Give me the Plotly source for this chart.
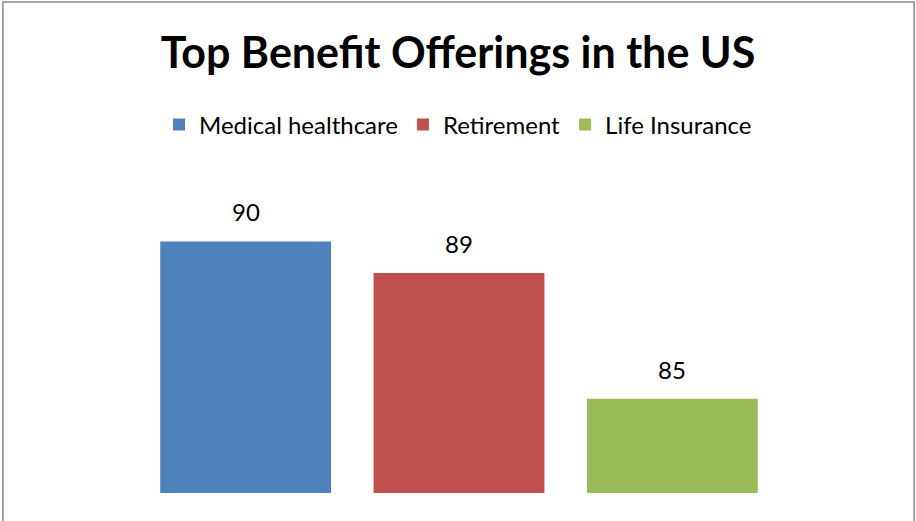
import plotly.graph_objects as go

# ---- data ----
series_names = ["Medical healthcare", "Retirement", "Life Insurance"]
series_values = [90, 89, 85]
series_colors = ["#4F81BD", "#C0504D", "#9BBB59"]
title_text = "Top Benefit Offerings in the US"

# ---- layout geometry (pixels) ----
W, H = 916, 521
plot_left, plot_right = 138.75, 779.25
plot_bottom = 492.7
y_min, y_max = 82, 91
px_per_unit = 31.4
plot_top = plot_bottom - (y_max - y_min) * px_per_unit

FONT = "Lato, Calibri, 'Open Sans', sans-serif"

fig = go.Figure()
for name, val, col in zip(series_names, series_values, series_colors):
    fig.add_trace(go.Bar(
        x=[name], y=[val], name=name,
        marker=dict(color=col, line=dict(width=0)),
        hoverinfo="skip",
    ))
    fig.add_annotation(
        x=name, y=val, xref="x", yref="y",
        text=str(val), showarrow=False,
        yanchor="bottom", yshift=13,
        font=dict(family=FONT, size=24, color="#000000"),
    )

# border (gray frame, bottom cut off)
pw = plot_right - plot_left
ph = plot_bottom - plot_top
def xp(px):
    return (px - plot_left) / pw
def yp(py):
    return (plot_bottom - py) / ph

fig.add_shape(type="rect", xref="paper", yref="paper",
              x0=xp(2.5), x1=xp(914.5), y0=yp(540), y1=yp(2.5),
              line=dict(color="#8A8A8A", width=1.5), fillcolor="rgba(0,0,0,0)",
              layer="below")

fig.update_layout(
    width=W, height=H,
    margin=dict(l=plot_left, r=W - plot_right, t=plot_top, b=H - plot_bottom, pad=0),
    paper_bgcolor="white", plot_bgcolor="white",
    barmode="overlay", bargap=1 - 171 / 213.5,
    title=dict(text="<b>" + title_text + "</b>", x=0.5, xanchor="center",
               xref="container", yref="container", y=1 - 53 / H, yanchor="middle",
               font=dict(family=FONT, size=43, color="#000000")),
    legend=dict(orientation="h", x=0.5, xanchor="center", xref="container",
                yref="container", y=1 - 125 / H, yanchor="middle",
                font=dict(family=FONT, size=24, color="#000000"),
                itemwidth=30, traceorder="normal", bgcolor="rgba(0,0,0,0)"),
    xaxis=dict(visible=False, range=[-0.5, 2.5]),
    yaxis=dict(visible=False, range=[y_min, y_max]),
    showlegend=True,
)

fig.write_html("out.html")
